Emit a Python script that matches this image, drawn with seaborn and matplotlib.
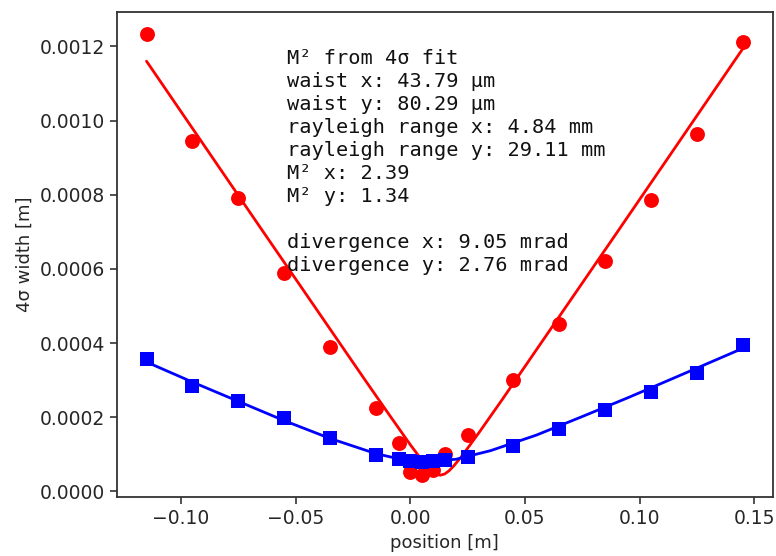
import numpy as np
import pandas as pd
import matplotlib
matplotlib.use('Agg')
import matplotlib.pyplot as plt
import seaborn as sns

# Measured beam widths along the caustic
position = [-0.115, -0.095, -0.075, -0.055, -0.035, -0.015, -0.005, 0.0, 0.005,
            0.010, 0.015, 0.025, 0.045, 0.065, 0.085, 0.105, 0.125, 0.145]
width_x = [0.001234, 0.000945, 0.000792, 0.000589, 0.000390, 0.000225, 0.000131,
           0.000052, 0.000045, 0.000059, 0.000100, 0.000152, 0.000300, 0.000452,
           0.000620, 0.000786, 0.000964, 0.001213]
width_y = [0.000356, 0.000284, 0.000245, 0.000198, 0.000144, 0.0000977, 0.000087,
           0.000082, 0.000080, 0.000081, 0.000084, 0.0000932, 0.000123, 0.000168,
           0.000220, 0.000268, 0.000320, 0.000395]

# Fit curves
fit_pos_x = [-0.115, -0.09, -0.065, -0.04, -0.02, -0.01, -0.005, 0.0, 0.004, 0.007,
             0.009, 0.011, 0.013, 0.015, 0.017, 0.019, 0.022, 0.026, 0.03, 0.04,
             0.06, 0.09, 0.12, 0.145]
fit_x = [0.001160, 0.000934, 0.000708, 0.000483, 0.000303, 0.000214, 0.000170,
         0.000126, 0.0000933, 0.0000705, 0.0000574, 0.0000478, 0.0000438,
         0.0000471, 0.0000563, 0.0000691, 0.0000917, 0.000125, 0.000159,
         0.000247, 0.000427, 0.000697, 0.000968, 0.001194]
fit_pos_y = [-0.115, -0.095, -0.075, -0.055, -0.035, -0.015, -0.005, 0.008, 0.02,
             0.035, 0.055, 0.075, 0.095, 0.115, 0.145]
fit_y = [0.000349, 0.000295, 0.000243, 0.000191, 0.000143, 0.000102, 0.0000880,
         0.0000803, 0.0000869, 0.000110, 0.000152, 0.000202, 0.000253, 0.000306,
         0.000386]

info_lines = [
    'M² from 4σ fit',
    'waist x: 43.79 µm',
    'waist y: 80.29 µm',
    'rayleigh range x: 4.84 mm',
    'rayleigh range y: 29.11 mm',
    'M² x: 2.39',
    'M² y: 1.34',
    '',
    'divergence x: 9.05 mrad',
    'divergence y: 2.76 mrad',
]

sns.set_style('ticks')
plt.rcParams['font.family'] = ['DejaVu Sans']

fig = plt.figure(figsize=(7.76, 5.56), dpi=100)
ax = fig.add_axes([0.1504, 0.1056, 0.8453, 0.8734])

data = pd.DataFrame({'position': position, 'x': width_x, 'y': width_y})

sns.scatterplot(data=data, x='position', y='x', marker='o', s=115, color='red',
                linewidth=0, ax=ax, zorder=2)
sns.lineplot(x=fit_pos_x, y=fit_x, color='red', linewidth=2, ax=ax, zorder=2)
sns.scatterplot(data=data, x='position', y='y', marker='s', s=105, color='blue',
                linewidth=0, ax=ax, zorder=3)
sns.lineplot(x=fit_pos_y, y=fit_y, color='blue', linewidth=2, ax=ax, zorder=3)

ax.text(0.26, 0.9235, '\n'.join(info_lines), transform=ax.transAxes, va='top',
        ha='left', family='DejaVu Sans Mono', fontsize=14.6, linespacing=1.27,
        color='#111111')

ax.set_xlabel('position [m]', fontsize=13)
ax.set_ylabel('4σ width [m]', fontsize=13)
ax.set_xticks([-0.10, -0.05, 0.00, 0.05, 0.10, 0.15])
ax.set_yticks([0.0, 0.0002, 0.0004, 0.0006, 0.0008, 0.0010, 0.0012])
ax.set_xticklabels(['−0.10', '−0.05', '0.00', '0.05', '0.10', '0.15'])
ax.set_yticklabels(['0.0000', '0.0002', '0.0004', '0.0006', '0.0008', '0.0010', '0.0012'])
ax.tick_params(labelsize=13.5, length=5, width=1.2, color='#333333')
for sp in ax.spines.values():
    sp.set_visible(True)
    sp.set_color('#333333')
    sp.set_linewidth(1.3)

fig.savefig('out.png', dpi=100)
